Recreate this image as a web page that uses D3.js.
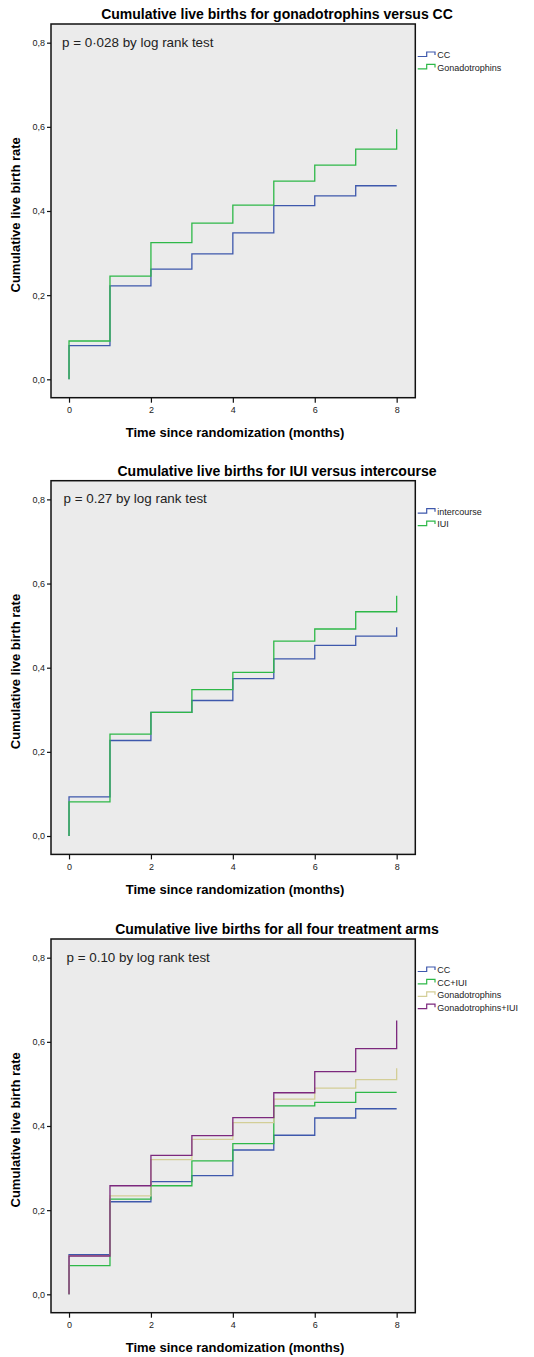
<!DOCTYPE html>
<html lang="en">
<head>
<meta charset="UTF-8">
<title>Cumulative live births</title>
<style>
    body {
        margin: 0;
        background: #fff;
        font-family: "Liberation Sans", Arial, sans-serif;
    }
    .frame { fill: #ebebeb; stroke: #111; stroke-width: 1.5; }
    .axis path { display: none; }
    .axis line { stroke: #111; stroke-width: 1.2; }
    .axis text { font-size: 9px; fill: #222; font-family: "Liberation Sans", Arial, sans-serif; }
    .title { font-size: 14px; font-weight: bold; }
    .axis-title { font-size: 13px; font-weight: bold; }
    .ptext { font-size: 13.4px; fill: #222; }
    .legend text { font-size: 9px; fill: #222; }
    .curve { fill: none; stroke-width: 1.3; }
</style>
</head>
<body>
<svg id="chart" width="534" height="1357"></svg>

<script src="https://cdnjs.cloudflare.com/ajax/libs/d3/7.8.5/d3.min.js"></script>
<script>
// months 0..8; each value is the cumulative rate from that month on
const months = [0, 1, 2, 3, 4, 5, 6, 7, 8];
const yTicks = [0, 0.2, 0.4, 0.6, 0.8];
const xTicks = [0, 2, 4, 6, 8];

// panel 1: gonadotrophins versus CC
const p1Names = ["CC", "Gonadotrophins"];
const p1CC = [0.080, 0.222, 0.262, 0.298, 0.348, 0.413, 0.436, 0.460, 0.460];
const p1Gon = [0.091, 0.245, 0.325, 0.371, 0.414, 0.471, 0.509, 0.547, 0.594];

// panel 2: IUI versus intercourse
const p2Names = ["intercourse", "IUI"];
const p2Inter = [0.093, 0.227, 0.294, 0.322, 0.374, 0.421, 0.453, 0.475, 0.496];
const p2IUI = [0.081, 0.242, 0.294, 0.348, 0.389, 0.463, 0.492, 0.533, 0.571];

// panel 3: all four arms
const p3Names = ["CC", "CC+IUI", "Gonadotrophins", "Gonadotrophins+IUI"];
const p3CC = [0.094, 0.220, 0.268, 0.282, 0.343, 0.378, 0.419, 0.441, 0.441];
const p3CCIUI = [0.068, 0.226, 0.258, 0.317, 0.358, 0.448, 0.456, 0.480, 0.480];
const p3Gon = [0.092, 0.234, 0.320, 0.368, 0.408, 0.464, 0.490, 0.510, 0.537];
const p3GonIUI = [0.091, 0.258, 0.330, 0.377, 0.420, 0.479, 0.529, 0.584, 0.651];

const colors = ["#3e58ac", "#2eb848", "#d3ce97", "#7c287d"];

const panels = [
    { top: 24, title: "Cumulative live births for gonadotrophins versus CC",
      ptext: "p = 0\u00b7028 by log rank test", px: 62, names: p1Names, series: [p1CC, p1Gon] },
    { top: 480.7, title: "Cumulative live births for IUI versus intercourse",
      ptext: "p = 0.27 by log rank test", px: 63.5, names: p2Names, series: [p2Inter, p2IUI] },
    { top: 939, title: "Cumulative live births for all four treatment arms",
      ptext: "p = 0.10 by log rank test", px: 66.5, names: p3Names, series: [p3CC, p3CCIUI, p3Gon, p3GonIUI] }
];

const svg = d3.select("#chart");
const left = 51, right = 415.3, plotH = 373.7;
const comma = d => d3.format(".1f")(d).replace(".", ",");

panels.forEach(p => {
    const g = svg.append("g").attr("transform", `translate(0,${p.top})`);

    const x = d3.scaleLinear().domain([-0.44, 8.455]).range([left, right]);
    const y = d3.scaleLinear().domain([-0.0437, 0.8444]).range([plotH, 0]);

    // title
    g.append("text")
        .attr("class", "title")
        .attr("x", 277)
        .attr("y", -5)
        .attr("text-anchor", "middle")
        .text(p.title);

    // plot area
    g.append("rect")
        .attr("class", "frame")
        .attr("x", left)
        .attr("y", 0)
        .attr("width", right - left)
        .attr("height", plotH);

    // axes
    g.append("g")
        .attr("class", "axis")
        .attr("transform", `translate(${left},0)`)
        .call(d3.axisLeft(y).tickValues(yTicks).tickFormat(comma).tickSize(4).tickPadding(2));

    g.append("g")
        .attr("class", "axis")
        .attr("transform", `translate(0,${plotH})`)
        .call(d3.axisBottom(x).tickValues(xTicks).tickFormat(d3.format("d")).tickSize(5).tickPadding(4));

    // axis titles
    g.append("text")
        .attr("class", "axis-title")
        .attr("x", 235)
        .attr("y", plotH + 39.5)
        .attr("text-anchor", "middle")
        .text("Time since randomization (months)");

    g.append("text")
        .attr("class", "axis-title")
        .attr("transform", `translate(20,${plotH / 2 + 4}) rotate(-90)`)
        .attr("text-anchor", "middle")
        .text("Cumulative live birth rate");

    // p value note
    g.append("text")
        .attr("class", "ptext")
        .attr("x", p.px)
        .attr("y", y(0.8) + 4)
        .text(p.ptext);

    // step curves
    const line = d3.line()
        .x(d => x(d[0]))
        .y(d => y(d[1]))
        .curve(d3.curveStepAfter);

    p.series.forEach((vals, i) => {
        const pts = [[0, 0]].concat(months.map((m, k) => [m, vals[k]]));
        g.append("path")
            .attr("class", "curve")
            .attr("stroke", colors[i])
            .attr("d", line(pts));
    });

    // legend
    const lg = g.append("g").attr("class", "legend");
    p.names.forEach((name, i) => {
        const cy = 31 + i * 12.4;
        lg.append("path")
            .attr("d", `M417.7,${cy + 1.5}H426.7V${cy - 3}H435V${cy}`)
            .attr("fill", "none")
            .attr("stroke", colors[i])
            .attr("stroke-width", 1.2);
        lg.append("text")
            .attr("x", 437.3)
            .attr("y", cy + 3.3)
            .text(name);
    });
});
</script>
</body>
</html>
